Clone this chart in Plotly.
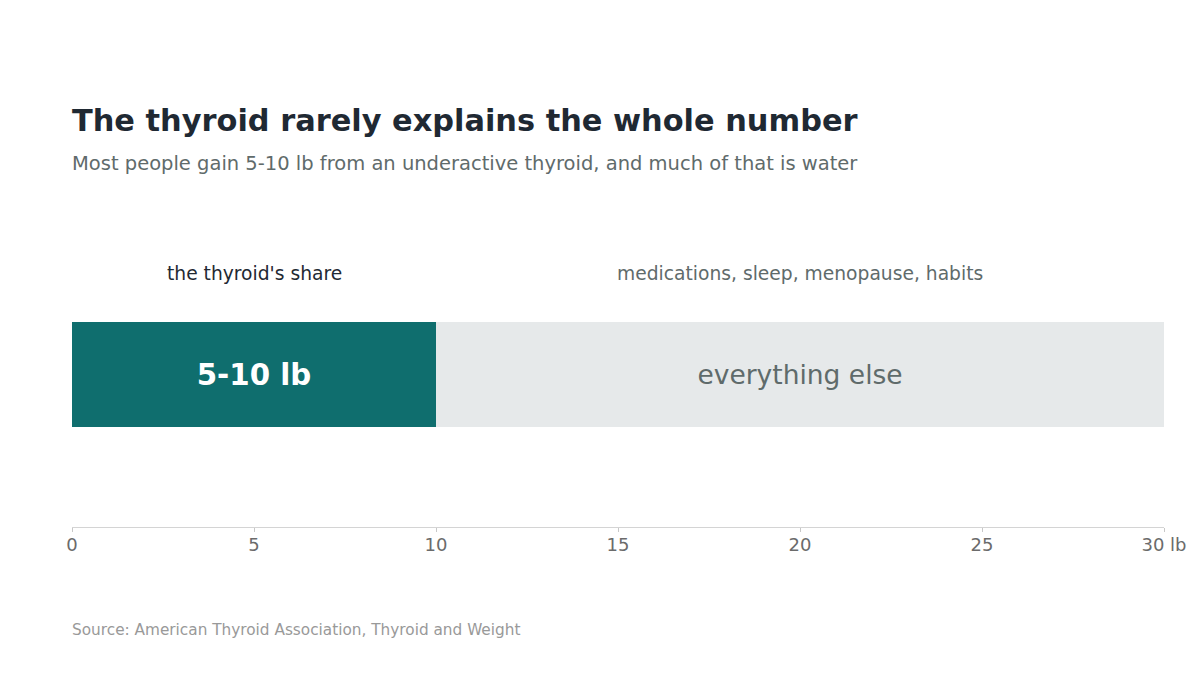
import plotly.graph_objects as go

# data
segments = ["thyroid", "everything else"]
values = [10, 20]
bar_text = ["5-10 lb", "everything else"]
top_labels = ["the thyroid's share", "medications, sleep, menopause, habits"]
tick_vals = [0, 5, 10, 15, 20, 25, 30]
tick_text = ["0", "5", "10", "15", "20", "25", "30 lb"]

teal = "#0f6e6e"
light = "#e6e9ea"
font = "DejaVu Sans"

fig = go.Figure()
fig.add_trace(go.Bar(
    x=[values[0]], y=[0], base=[0], orientation="h", width=0.344,
    marker=dict(color=teal, line=dict(width=0)),
    text=[bar_text[0]], textposition="inside", insidetextanchor="middle",
    textfont=dict(family=font, size=29.3, color="white", weight="bold"),
    hoverinfo="skip",
))
fig.add_trace(go.Bar(
    x=[values[1]], y=[0], base=[values[0]], orientation="h", width=0.344,
    marker=dict(color=light, line=dict(width=0)),
    text=[bar_text[1]], textposition="inside", insidetextanchor="middle",
    textfont=dict(family=font, size=26.5, color="#5f6b6b"),
    hoverinfo="skip",
))

# labels above each segment, centred on the segment
mids = [values[0] / 2, values[0] + values[1] / 2]
colors = ["#1f2933", "#5f6b6b"]
for m, lab, c in zip(mids, top_labels, colors):
    fig.add_annotation(x=m, y=0.83, xref="x", yref="paper", text=lab,
                       showarrow=False, font=dict(family=font, size=18.7, color=c),
                       xanchor="center", yanchor="middle")

fig.add_annotation(x=0, y=1.334, xref="paper", yref="paper", xshift=-2,
                   text="<b>The thyroid rarely explains the whole number</b>",
                   showarrow=False, xanchor="left", yanchor="middle",
                   font=dict(family=font, size=30.4, color="#1f2933"))
fig.add_annotation(x=0, y=1.193, xref="paper", yref="paper", xshift=-2,
                   text="Most people gain 5-10 lb from an underactive thyroid, and much of that is water",
                   showarrow=False, xanchor="left", yanchor="middle",
                   font=dict(family=font, size=19.5, color="#5f6b6b"))
fig.add_annotation(x=0, y=-0.338, xref="paper", yref="paper", xshift=-2,
                   text="Source: American Thyroid Association, Thyroid and Weight",
                   showarrow=False, xanchor="left", yanchor="middle",
                   font=dict(family=font, size=15.3, color="#999999"))

fig.update_layout(
    width=1200, height=675,
    margin=dict(l=64, r=44, t=214, b=156),
    paper_bgcolor="white", plot_bgcolor="white",
    barmode="overlay", showlegend=False,
    font=dict(family=font),
    xaxis=dict(range=[0, 30], tickvals=tick_vals, ticktext=tick_text,
               showgrid=False, zeroline=False, showline=True,
               linecolor="#d4d4d4", linewidth=1, ticks="outside",
               ticklen=4, tickcolor="#c8c8c8", ticklabelstandoff=-3,
               tickfont=dict(family=font, size=18, color="#6b6b6b"), fixedrange=True),
    yaxis=dict(range=[-0.5, 0.5], visible=False, fixedrange=True),
)

fig.write_html("out.html")
